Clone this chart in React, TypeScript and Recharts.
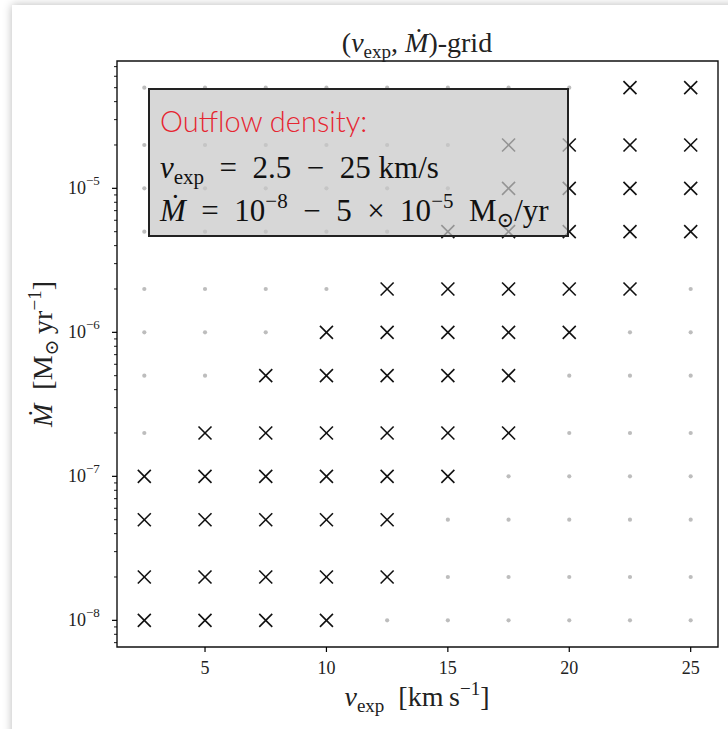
import { ScatterChart, Scatter, XAxis, YAxis, ReferenceArea } from "recharts";

// model grid: expansion velocity [km/s] and mass-loss rate [Msun/yr]
const vexpGrid = [2.5, 5, 7.5, 10, 12.5, 15, 17.5, 20, 22.5, 25];
const mdotGrid = [1e-8, 2e-8, 5e-8, 1e-7, 2e-7, 5e-7, 1e-6, 2e-6, 5e-6, 1e-5, 2e-5, 5e-5];

// velocities that were actually run, one row per entry of mdotGrid
const modelVexp: number[][] = [
  [2.5, 5, 7.5, 10],
  [2.5, 5, 7.5, 10, 12.5],
  [2.5, 5, 7.5, 10, 12.5],
  [2.5, 5, 7.5, 10, 12.5, 15],
  [5, 7.5, 10, 12.5, 15, 17.5],
  [7.5, 10, 12.5, 15, 17.5],
  [10, 12.5, 15, 17.5, 20],
  [12.5, 15, 17.5, 20, 22.5],
  [15, 17.5, 20, 22.5, 25],
  [17.5, 20, 22.5, 25],
  [17.5, 20, 22.5, 25],
  [22.5, 25],
];

const xTicks = [5, 10, 15, 20, 25];
const yDecades = [1e-9, 1e-8, 1e-7, 1e-6, 1e-5];
const minorSteps = [2, 3, 4, 5, 6, 7, 8, 9];

const xDomain: [number, number] = [1.375, 26.125];
const yDomain: [number, number] = [6.53e-9, 7.66e-5];

const yTicks = yDecades
  .flatMap((d) => [d, ...minorSteps.map((s) => s * d)])
  .filter((v) => v >= yDomain[0] && v <= yDomain[1]);

const models = mdotGrid.flatMap((m, i) => modelVexp[i].map((v) => ({ v, m })));
const missing = mdotGrid.flatMap((m, i) =>
  vexpGrid.filter((v) => !modelVexp[i].includes(v)).map((v) => ({ v, m }))
);

const SERIF = "'Liberation Serif', 'DejaVu Serif', serif";
const SP = "\u2002"; // en space, wider gaps around math operators

function Cross(props: any) {
  const { cx, cy } = props;
  const r = 6.5;
  return (
    <g stroke="#111" strokeWidth={1.6}>
      <line x1={cx - r} y1={cy - r} x2={cx + r} y2={cy + r} />
      <line x1={cx - r} y1={cy + r} x2={cx + r} y2={cy - r} />
    </g>
  );
}

function Dot(props: any) {
  return <circle cx={props.cx} cy={props.cy} r={2.1} fill="#bdbdbd" />;
}

function XTick(props: any) {
  const { x, y, payload } = props;
  return (
    <g>
      <line x1={x} x2={x} y1={y} y2={y + 5} stroke="#000" strokeWidth={1.2} />
      <text x={x} y={y + 27} textAnchor="middle" fontFamily={SERIF} fontSize={18} fill="#222">
        {payload.value}
      </text>
    </g>
  );
}

function YTick(props: any) {
  const { x, y, payload } = props;
  const v: number = payload.value;
  const exp = Math.round(Math.log10(v));
  const major = Math.abs(v - Math.pow(10, exp)) < v * 1e-6;
  return (
    <g>
      <line x1={x} x2={x - (major ? 5 : 3)} y1={y} y2={y} stroke="#000" strokeWidth={major ? 1.2 : 0.9} />
      {major && (
        <text x={x - 31} y={y + 6} textAnchor="end" fontFamily={SERIF} fontSize={18} fill="#222">
          10
          <tspan x={x - 31} dy={-9} textAnchor="start" fontSize={13}>
            {"\u2212" + -exp}
          </tspan>
        </text>
      )}
    </g>
  );
}

export default function App() {
  return (
    <div
      style={{
        position: "absolute",
        left: 0,
        top: 0,
        width: 728,
        height: 729,
        overflow: "hidden",
        background: "#fff",
      }}
    >
      <div
        style={{
          position: "absolute",
          left: 12,
          top: 5,
          width: 760,
          height: 760,
          background: "#fff",
          boxShadow: "0 0 9px rgba(0,0,0,0.28)",
        }}
      />
      <div style={{ position: "absolute", left: 0, top: 0 }}>
        <ScatterChart width={728} height={729} margin={{ top: 61, right: 10, bottom: 22, left: 0 }}>
          <XAxis
            type="number"
            dataKey="v"
            domain={xDomain}
            allowDataOverflow
            ticks={xTicks}
            tick={<XTick />}
            tickSize={0}
            tickMargin={0}
            tickLine={false}
            axisLine={false}
            height={60}
          />
          <YAxis
            type="number"
            dataKey="m"
            scale="log"
            domain={yDomain}
            allowDataOverflow
            ticks={yTicks}
            interval={0}
            tick={<YTick />}
            tickSize={0}
            tickMargin={0}
            tickLine={false}
            axisLine={false}
            width={117}
          />
          <Scatter data={missing} shape={<Dot />} isAnimationActive={false} />
          <Scatter data={models} shape={<Cross />} isAnimationActive={false} />
          <ReferenceArea
            x1={xDomain[0]}
            x2={xDomain[1]}
            y1={yDomain[0]}
            y2={yDomain[1]}
            fill="none"
            stroke="#111"
            strokeWidth={1.4}
            ifOverflow="visible"
          />
        </ScatterChart>
      </div>
      <svg
        width={728}
        height={729}
        style={{ position: "absolute", left: 0, top: 0, pointerEvents: "none" }}
        fontFamily={SERIF}
        fill="#222"
      >
        {/* title */}
        <text x={417} y={52} textAnchor="middle" fontSize={28}>
          (<tspan fontStyle="italic">v</tspan>
          <tspan fontSize={19} dy={6}>exp</tspan>
          <tspan dy={-6}>{", "}</tspan>
          <tspan fontStyle="italic">{"\u1E40"}</tspan>)-grid
        </text>
        {/* x label */}
        <text x={417} y={706} textAnchor="middle" fontSize={28}>
          <tspan fontStyle="italic">v</tspan>
          <tspan fontSize={19} dy={6}>exp</tspan>
          <tspan dy={-6}>{SP + "[km\u2009s"}</tspan>
          <tspan fontSize={19} dy={-11}>{"\u22121"}</tspan>
          <tspan dy={11}>]</tspan>
        </text>
        {/* y label */}
        <text x={0} y={0} textAnchor="middle" fontSize={28} transform="translate(52 354) rotate(-90)">
          <tspan fontStyle="italic">{"\u1E40"}</tspan>
          <tspan>{SP + "[M"}</tspan>
          <tspan fontSize={19} dy={6}>{"\u2299"}</tspan>
          <tspan dy={-6}>{"\u2009yr"}</tspan>
          <tspan fontSize={19} dy={-11}>{"\u22121"}</tspan>
          <tspan dy={11}>]</tspan>
        </text>
        {/* annotation box */}
        <rect x={149} y={89} width={419} height={147} fill="rgb(200,200,200)" fillOpacity={0.72} stroke="#222" strokeWidth={2} />
        <text x={160} y={132} fontFamily="Lato, 'Open Sans', sans-serif" fontWeight={300} fontSize={29} fill="#e62531">
          Outflow density:
        </text>
        <text x={160} y={178} fontSize={31} fill="#111">
          <tspan fontStyle="italic">v</tspan>
          <tspan fontSize={21} dy={6}>exp</tspan>
          <tspan dy={-6}>{SP + "=" + SP + "2.5" + SP + "\u2212" + SP + "25 km/s"}</tspan>
        </text>
        <text x={160} y={221} fontSize={31} fill="#111">
          <tspan fontStyle="italic">{"\u1E40"}</tspan>
          <tspan>{SP + "=" + SP + "10"}</tspan>
          <tspan fontSize={21} dy={-13}>{"\u22128"}</tspan>
          <tspan dy={13}>{SP + "\u2212" + SP + "5" + SP + "\u00D7" + SP + "10"}</tspan>
          <tspan fontSize={21} dy={-13}>{"\u22125"}</tspan>
          <tspan dy={13}>{SP + "M"}</tspan>
          <tspan fontSize={21} dy={6}>{"\u2299"}</tspan>
          <tspan dy={-6}>/yr</tspan>
        </text>
      </svg>
    </div>
  );
}
